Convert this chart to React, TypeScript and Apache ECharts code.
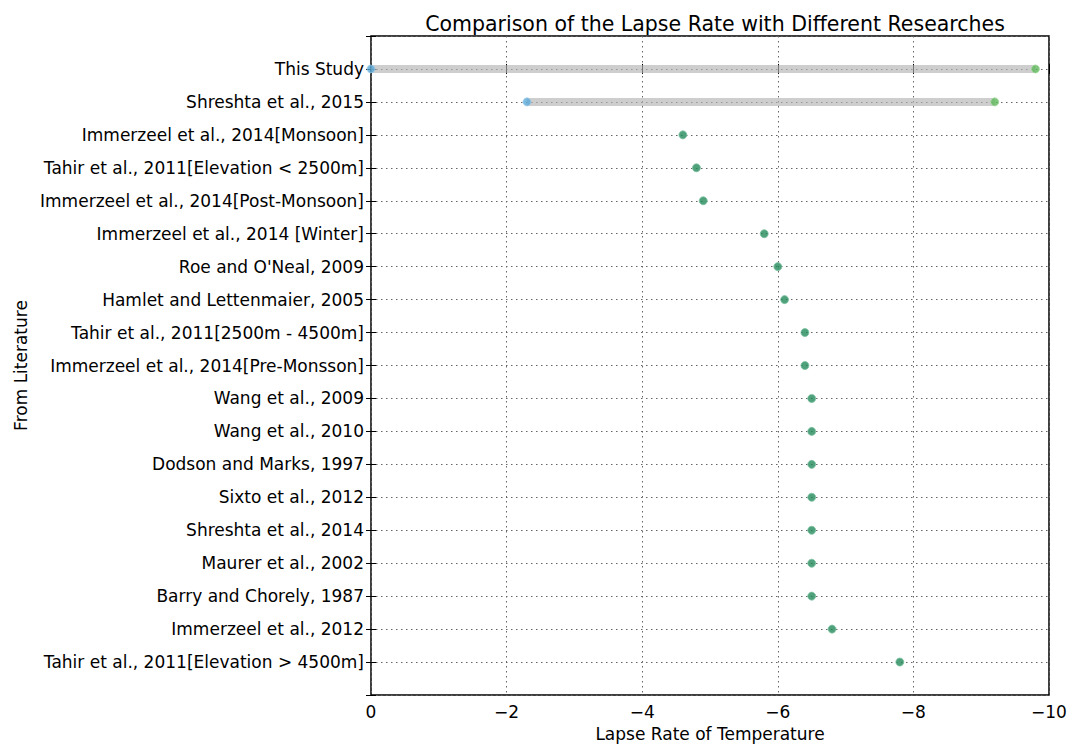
import React, { useEffect, useRef } from "react";
import * as echarts from "echarts";

const categories: string[] = [
  "This Study",
  "Shreshta et al., 2015",
  "Immerzeel et al., 2014[Monsoon]",
  "Tahir et al., 2011[Elevation < 2500m]",
  "Immerzeel et al., 2014[Post-Monsoon]",
  "Immerzeel et al., 2014 [Winter]",
  "Roe and O'Neal, 2009",
  "Hamlet and Lettenmaier, 2005",
  "Tahir et al., 2011[2500m - 4500m]",
  "Immerzeel et al., 2014[Pre-Monsson]",
  "Wang et al., 2009",
  "Wang et al., 2010",
  "Dodson and Marks, 1997",
  "Sixto et al., 2012",
  "Shreshta et al., 2014",
  "Maurer et al., 2002",
  "Barry and Chorely, 1987",
  "Immerzeel et al., 2012",
  "Tahir et al., 2011[Elevation > 4500m]",
];

// range studies (low / high end)
const rangeIndex: number[] = [0, 1];
const rangeLow: number[] = [0, -2.3];
const rangeHigh: number[] = [-9.8, -9.2];

// single-value studies
const singleValues: number[] = [
  -4.6, -4.8, -4.9, -5.8, -6.0, -6.1, -6.4, -6.4, -6.5, -6.5, -6.5, -6.5, -6.5, -6.5, -6.5, -6.8, -7.8,
];

const FONT = "DejaVu Sans";

export default function App() {
  const ref = useRef<HTMLDivElement>(null);
  useEffect(() => {
    if (!ref.current) return;
    const chart = echarts.init(ref.current, undefined, { renderer: "svg" });
    const fmtX = (v: number) => (v === 0 ? "0" : String(v).replace("-", "\u2212"));
    const yLabel = (v: number) => (v >= 0 && v < categories.length ? categories[v] : "");

    const rangeLines = rangeIndex.map((ri, k) => ({
      type: "line",
      data: [
        [rangeLow[k], ri],
        [rangeHigh[k], ri],
      ],
      symbol: "none",
      lineStyle: { color: "#b4b4b4", width: 8, opacity: 0.65 },
      z: 1,
      silent: true,
    }));

    const gridLine = { show: true, lineStyle: { type: [1.5, 3.5], color: "#666", width: 1 } };

    const option: any = {
      animation: false,
      backgroundColor: "#fff",
      title: {
        text: "Comparison of the Lapse Rate with Different Researches",
        left: 710,
        textAlign: "center",
        top: 8,
        textStyle: { fontFamily: FONT, fontSize: 20.5, fontWeight: "normal", color: "#000" },
      },
      grid: {
        left: 371,
        right: 27,
        top: 36,
        bottom: 50,
        show: true,
        borderColor: "#000",
        borderWidth: 1.5,
        backgroundColor: "transparent",
        containLabel: false,
        outerBoundsMode: "none",
      },
      xAxis: [
        {
          type: "value",
          min: -10,
          max: 0,
          interval: 2,
          inverse: true,
          name: "Lapse Rate of Temperature",
          nameLocation: "middle",
          nameGap: 30,
          nameTextStyle: { fontFamily: FONT, fontSize: 17, color: "#000" },
          axisLine: { show: false },
          axisTick: { show: true, inside: true, length: 5, lineStyle: { color: "#000" } },
          axisLabel: { fontFamily: FONT, fontSize: 17, color: "#000", margin: 8, formatter: fmtX },
          splitLine: gridLine,
        },
        {
          type: "value",
          min: -10,
          max: 0,
          interval: 2,
          inverse: true,
          position: "top",
          axisLine: { show: false },
          axisTick: { show: true, inside: true, length: 5, lineStyle: { color: "#000" } },
          axisLabel: { show: false },
          splitLine: { show: false },
        },
      ],
      yAxis: [
        {
          type: "value",
          min: -1,
          max: 19,
          interval: 1,
          inverse: true,
          name: "From Literature",
          nameLocation: "middle",
          nameGap: 342,
          nameTextStyle: { fontFamily: FONT, fontSize: 17, color: "#000" },
          axisLine: { show: false },
          axisTick: { show: true, inside: true, length: 5, lineStyle: { color: "#000" } },
          axisLabel: { fontFamily: FONT, fontSize: 17, color: "#000", margin: 7, formatter: yLabel },
          splitLine: gridLine,
        },
        {
          type: "value",
          min: -1,
          max: 19,
          interval: 1,
          inverse: true,
          position: "right",
          axisLine: { show: false },
          axisTick: { show: true, inside: true, length: 5, lineStyle: { color: "#000" } },
          axisLabel: { show: false },
          splitLine: { show: false },
        },
      ],
      series: [
        ...rangeLines,
        {
          type: "scatter",
          data: rangeIndex.map((ri, k) => [rangeLow[k], ri]),
          symbolSize: 8,
          itemStyle: { color: "#5aa9d9", borderColor: "#9ccbe8", borderWidth: 1 },
          z: 3,
        },
        {
          type: "scatter",
          data: rangeIndex.map((ri, k) => [rangeHigh[k], ri]),
          symbolSize: 8,
          itemStyle: { color: "#5cb85a", borderColor: "#a4d89c", borderWidth: 1 },
          z: 3,
        },
        {
          type: "scatter",
          data: singleValues.map((v, i) => [v, i + rangeIndex.length]),
          symbolSize: 8,
          itemStyle: { color: "#228a5a", borderColor: "#7cc2a0", borderWidth: 1 },
          z: 3,
        },
      ],
    };
    chart.setOption(option);
    return () => chart.dispose();
  }, []);
  return (
    <div
      ref={ref}
      style={{ position: "absolute", left: 0, top: 0, width: 1076, height: 745 }}
    />
  );
}
